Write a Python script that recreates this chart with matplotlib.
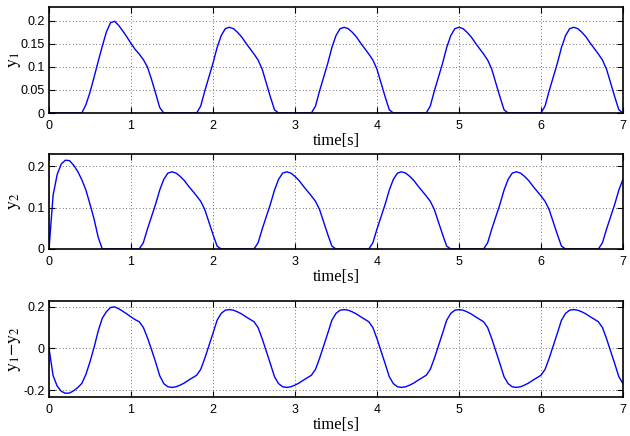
import numpy as np
import matplotlib
matplotlib.use('Agg')
from matplotlib import pyplot as plt

# time grid of the samples (step 0.05 s)
t = np.arange(0, 141) * 0.05

y1 = [0, 0, 0, 0, 0, 0, 0, 0, 0, 0.018,
      0.045, 0.078, 0.112, 0.145, 0.176, 0.196, 0.199, 0.19, 0.178, 0.165,
      0.151, 0.138, 0.128, 0.116, 0.10, 0.073, 0.043, 0.012, 0, 0,
      0, 0, 0, 0, 0, 0, 0, 0.015, 0.048, 0.078,
      0.108, 0.142, 0.168, 0.183, 0.186, 0.183, 0.175, 0.165, 0.152, 0.140,
      0.128, 0.115, 0.095, 0.065, 0.035, 0.007, 0, 0, 0, 0,
      0, 0, 0, 0, 0, 0.015, 0.048, 0.078, 0.108, 0.142,
      0.168, 0.183, 0.186, 0.183, 0.175, 0.165, 0.152, 0.140, 0.128, 0.115,
      0.095, 0.065, 0.035, 0.007, 0, 0, 0, 0, 0, 0,
      0, 0, 0, 0.015, 0.048, 0.078, 0.108, 0.142, 0.168, 0.183,
      0.186, 0.183, 0.175, 0.165, 0.152, 0.140, 0.128, 0.115, 0.095, 0.065,
      0.035, 0.007, 0, 0, 0, 0, 0, 0, 0, 0,
      0, 0.015, 0.048, 0.078, 0.108, 0.142, 0.168, 0.183, 0.186, 0.183,
      0.175, 0.165, 0.152, 0.140, 0.128, 0.115, 0.095, 0.065, 0.035, 0.007,
      0]

y2 = [0, 0.13, 0.18, 0.205, 0.214, 0.213, 0.202, 0.187, 0.167, 0.142,
      0.108, 0.072, 0.028, 0, 0, 0, 0, 0, 0, 0,
      0, 0, 0, 0.015, 0.048, 0.078, 0.108, 0.142, 0.168, 0.183,
      0.186, 0.183, 0.175, 0.165, 0.152, 0.140, 0.128, 0.115, 0.095, 0.065,
      0.035, 0.007, 0, 0, 0, 0, 0, 0, 0, 0,
      0, 0.015, 0.048, 0.078, 0.108, 0.142, 0.168, 0.183, 0.186, 0.183,
      0.175, 0.165, 0.152, 0.140, 0.128, 0.115, 0.095, 0.065, 0.035, 0.007,
      0, 0, 0, 0, 0, 0, 0, 0, 0, 0.015,
      0.048, 0.078, 0.108, 0.142, 0.168, 0.183, 0.186, 0.183, 0.175, 0.165,
      0.152, 0.140, 0.128, 0.115, 0.095, 0.065, 0.035, 0.007, 0, 0,
      0, 0, 0, 0, 0, 0, 0, 0.015, 0.048, 0.078,
      0.108, 0.142, 0.168, 0.183, 0.186, 0.183, 0.175, 0.165, 0.152, 0.140,
      0.128, 0.115, 0.095, 0.065, 0.035, 0.007, 0, 0, 0, 0,
      0, 0, 0, 0, 0, 0.015, 0.048, 0.078, 0.108, 0.142,
      0.168]

y3 = [0, -0.13, -0.18, -0.205, -0.214, -0.213, -0.202, -0.187, -0.167, -0.124,
      -0.063, 0.006, 0.084, 0.145, 0.176, 0.196, 0.199, 0.19, 0.178, 0.165,
      0.151, 0.138, 0.128, 0.101, 0.052, -0.005, -0.065, -0.130, -0.168, -0.183,
      -0.186, -0.183, -0.175, -0.165, -0.152, -0.140, -0.128, -0.100, -0.047, 0.013,
      0.073, 0.135, 0.168, 0.183, 0.186, 0.183, 0.175, 0.165, 0.152, 0.140,
      0.128, 0.100, 0.047, -0.013, -0.073, -0.135, -0.168, -0.183, -0.186, -0.183,
      -0.175, -0.165, -0.152, -0.140, -0.128, -0.100, -0.047, 0.013, 0.073, 0.135,
      0.168, 0.183, 0.186, 0.183, 0.175, 0.165, 0.152, 0.140, 0.128, 0.100,
      0.047, -0.013, -0.073, -0.135, -0.168, -0.183, -0.186, -0.183, -0.175, -0.165,
      -0.152, -0.140, -0.128, -0.100, -0.047, 0.013, 0.073, 0.135, 0.168, 0.183,
      0.186, 0.183, 0.175, 0.165, 0.152, 0.140, 0.128, 0.100, 0.047, -0.013,
      -0.073, -0.135, -0.168, -0.183, -0.186, -0.183, -0.175, -0.165, -0.152, -0.140,
      -0.128, -0.100, -0.047, 0.013, 0.073, 0.135, 0.168, 0.183, 0.186, 0.183,
      0.175, 0.165, 0.152, 0.140, 0.128, 0.100, 0.047, -0.013, -0.073, -0.135,
      -0.168]

xticks = [0, 1, 2, 3, 4, 5, 6, 7]
yticks1 = [0, 0.05, 0.1, 0.15, 0.2]
yticks2 = [0, 0.1, 0.2]
yticks3 = [-0.2, 0, 0.2]

plt.rcParams['font.family'] = ['Liberation Sans', 'DejaVu Sans']
plt.rcParams['font.size'] = 9
plt.rcParams['axes.unicode_minus'] = False
plt.rcParams['mathtext.fontset'] = 'stix'

fig = plt.figure(figsize=(6.3, 4.36), dpi=100)

panels = [
    ([0.0778, 0.7408, 0.911, 0.2431], y1, (0, 0.23), yticks1, ['0', '0.05', '0.1', '0.15', '0.2'], r'$\mathrm{y}_{\mathit{1}}$'),
    ([0.0778, 0.4289, 0.911, 0.2179], y2, (0, 0.229), yticks2, ['0', '0.1', '0.2'], r'$\mathrm{y}_{2}$'),
    ([0.0778, 0.0894, 0.911, 0.2202], y3, (-0.232, 0.227), yticks3, ['-0.2', '0', '0.2'], r'$\mathrm{y}_{\mathit{1}}\mathrm{-y}_{2}$'),
]

for rect, y, ylim, yt, ytl, ylab in panels:
    ax = fig.add_axes(rect)
    ax.plot(t, y, color='#0000ff', linewidth=1.0)
    ax.set_xlim(0, 7)
    ax.set_ylim(*ylim)
    ax.set_xticks(xticks)
    ax.set_xticklabels([str(v) for v in xticks])
    ax.set_yticks(yt)
    ax.set_yticklabels(ytl)
    ax.grid(True, linestyle=(0, (1, 3)), color='#444444', linewidth=0.6)
    ax.tick_params(direction='in', top=True, right=True, length=4, width=0.8, pad=3)
    ax.tick_params(axis='x', pad=5)
    for s in ax.spines.values():
        s.set_linewidth(1.2)
    ax.set_xlabel('time[s]', fontfamily='Liberation Serif', fontsize=12, labelpad=1)
    ax.set_ylabel(ylab, fontsize=13)
    ax.yaxis.set_label_coords(-0.045, 0.5)

fig.savefig('out.png', dpi=100)
